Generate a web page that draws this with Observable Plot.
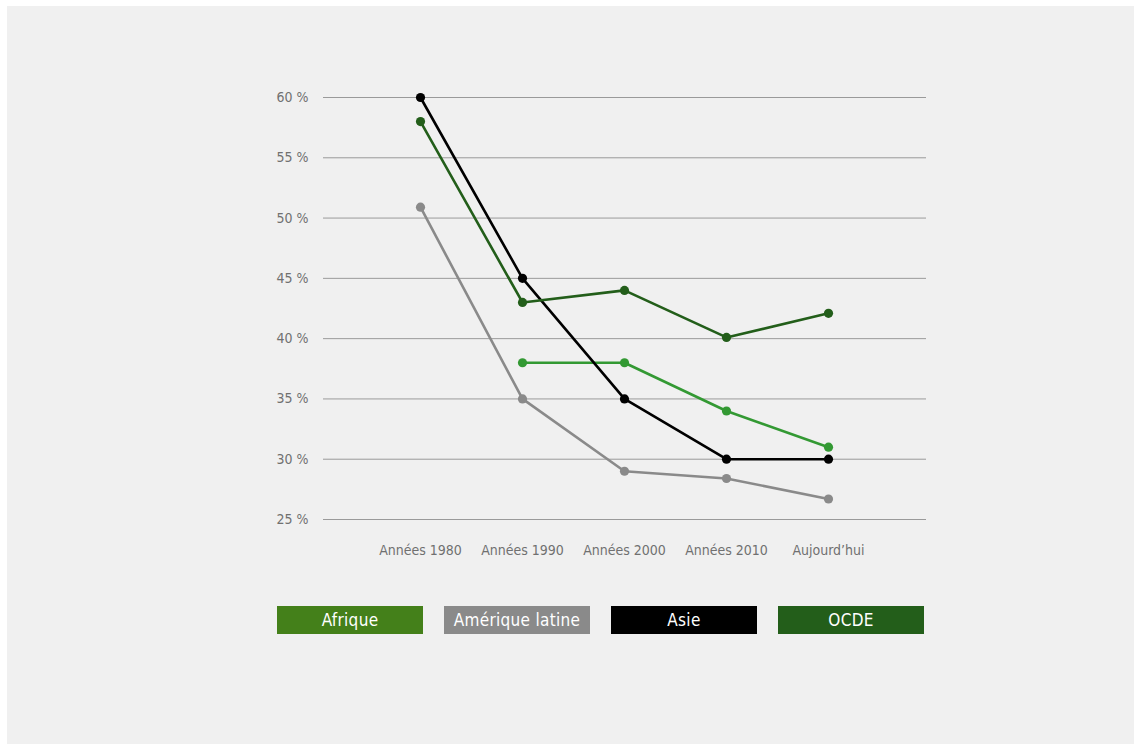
<!DOCTYPE html>
<html lang="fr">
<head>
<meta charset="utf-8">
<script src="https://cdn.jsdelivr.net/npm/d3@7"></script>
<script src="https://cdn.jsdelivr.net/npm/@observablehq/plot@0.6"></script>
<style>
  html, body { margin: 0; padding: 0; background: #ffffff; }
  #panel {
    position: absolute; left: 7px; top: 6px;
    width: 1127px; height: 738px;
    background: #f0f0f0;
    font-family: "Liberation Sans Narrow", "DejaVu Sans Condensed", "Roboto", sans-serif;
    font-stretch: condensed;
  }
  #chart svg { display: block; background: transparent; }
  #legend {
    position: absolute; left: 270px; top: 600px;
    display: flex; gap: 21px;
  }
  .key {
    width: 146px; height: 28px; line-height: 28px;
    text-align: center; color: #ffffff; font-size: 17px; letter-spacing: 0.3px;
  }
</style>
</head>
<body>
<div id="panel">
  <div id="chart"></div>
  <div id="legend"></div>
</div>
<script>
// Periods on the horizontal axis
const periods = ["Années 1980", "Années 1990", "Années 2000", "Années 2010", "Aujourd’hui"];

// Share (%) per region and period; null where no figure exists
const afrique = [null, 38, 38, 34, 31];
const ameriqueLatine = [50.9, 35, 29, 28.4, 26.7];
const asie = [60, 45, 35, 30, 30];
const ocde = [58, 43, 44, 40.1, 42.1];

// Y-axis ticks
const yTicks = [25, 30, 35, 40, 45, 50, 55, 60];

const series = [
  {name: "Afrique", values: afrique, line: "#339933", key: "#44801a"},
  {name: "Amérique latine", values: ameriqueLatine, line: "#8a8a8a", key: "#8a8a8a"},
  {name: "Asie", values: asie, line: "#000000", key: "#000000"},
  {name: "OCDE", values: ocde, line: "#235e1a", key: "#235e1a"}
];

const rows = series.flatMap(s =>
  s.values.map((v, i) => ({region: s.name, period: periods[i], value: v}))
    .filter(d => d.value != null)
);

const lineColor = Object.fromEntries(series.map(s => [s.name, s.line]));
// draw order: lighter series beneath, black and dark green on top
const order = ["Amérique latine", "Afrique", "Asie", "OCDE"];

const marks = [
  Plot.ruleY(yTicks, {stroke: "#9a9a9a", strokeWidth: 1})
];
for (const name of order) {
  const data = rows.filter(d => d.region === name);
  marks.push(Plot.line(data, {x: "period", y: "value", stroke: lineColor[name], strokeWidth: 2.6}));
}
for (const name of order) {
  const data = rows.filter(d => d.region === name);
  marks.push(Plot.dot(data, {x: "period", y: "value", fill: lineColor[name], r: 4.6}));
}

const chart = Plot.plot({
  width: 1127,
  height: 560,
  marginTop: 91,
  marginBottom: 47,
  marginLeft: 316,
  marginRight: 208,
  style: {
    fontFamily: "\"Liberation Sans Narrow\", \"DejaVu Sans Condensed\", sans-serif",
    fontSize: "14px",
    color: "#707070",
    background: "transparent"
  },
  x: {type: "point", domain: periods, range: [411, 822], padding: 0, label: null, tickSize: 0, tickPadding: 26},
  y: {domain: [25, 60], ticks: yTicks, tickFormat: d => `${d} %`, label: null, tickSize: 0, tickPadding: 15},
  marks
});
document.getElementById("chart").appendChild(chart);

const legend = document.getElementById("legend");
for (const s of series) {
  const el = document.createElement("div");
  el.className = "key";
  el.style.background = s.key;
  el.textContent = s.name;
  legend.appendChild(el);
}
</script>
</body>
</html>
